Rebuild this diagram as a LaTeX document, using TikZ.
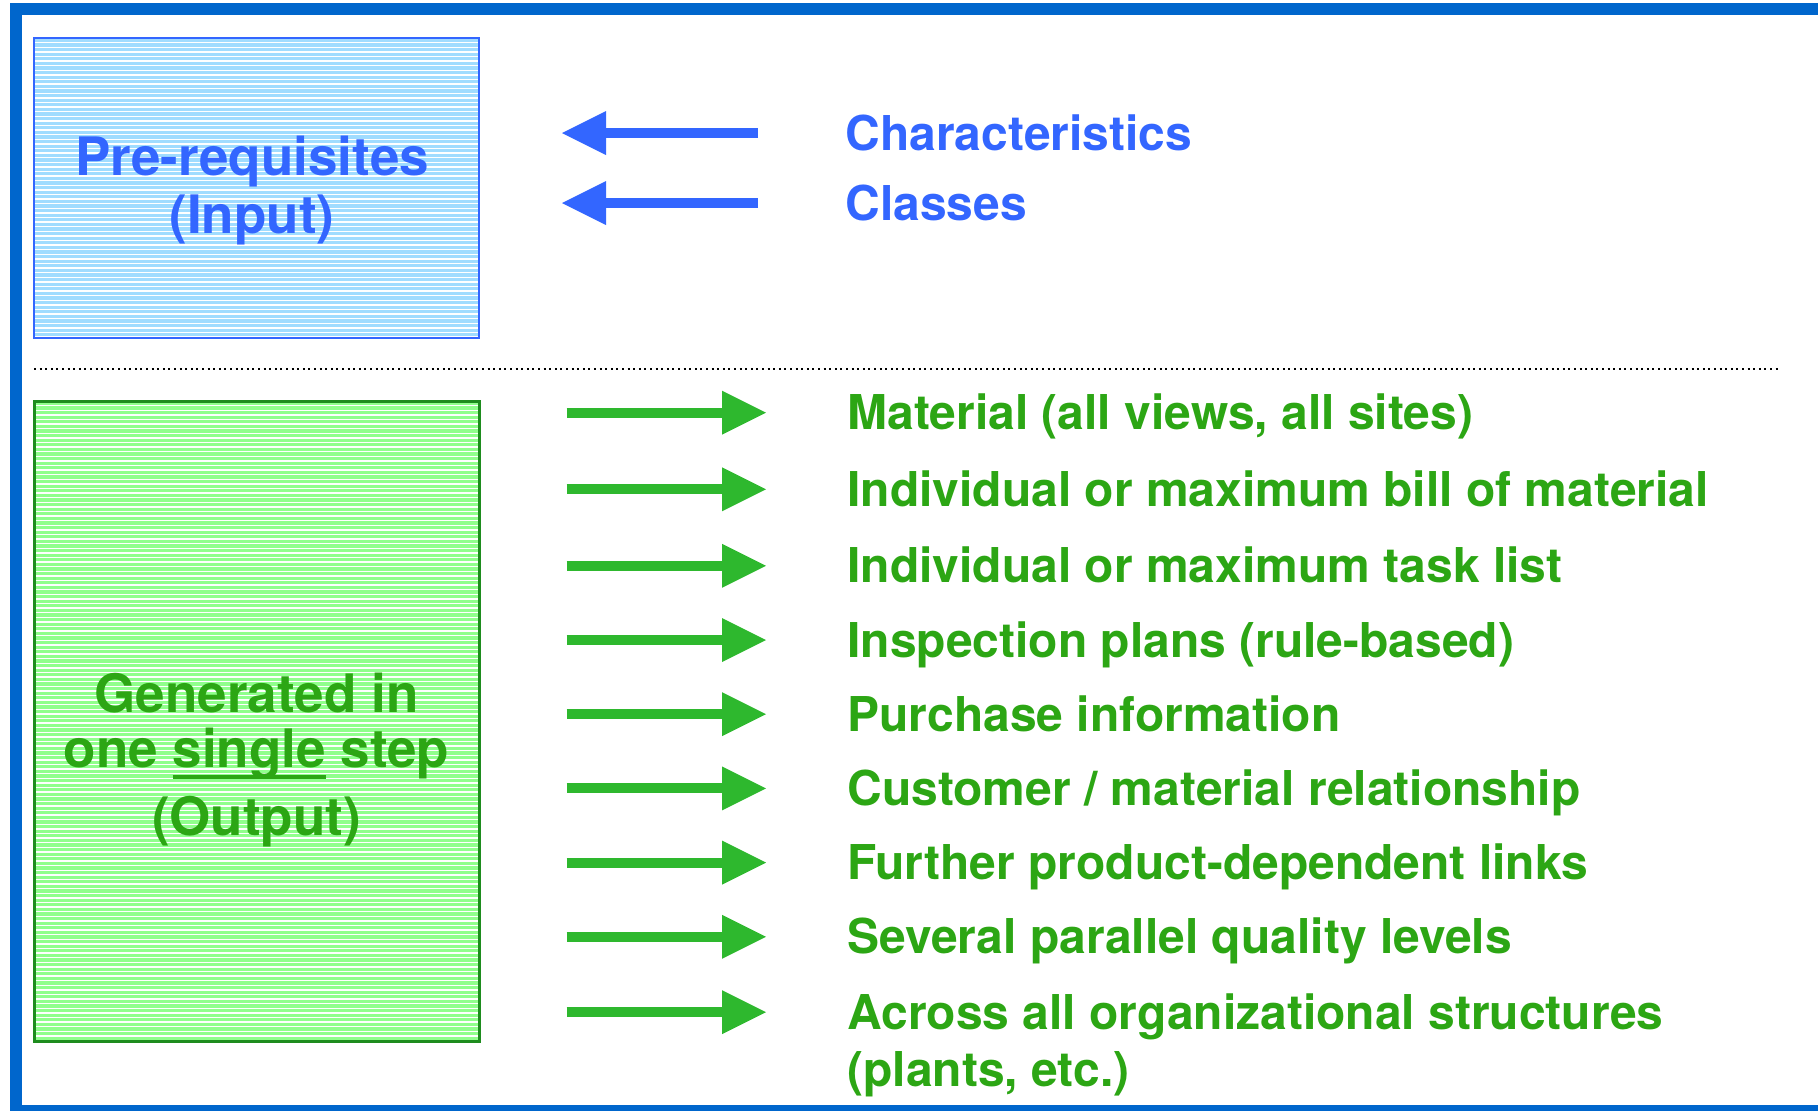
\documentclass[tikz,border=0pt]{standalone}
\usepackage{fontspec}
\setmainfont{TeX Gyre Heros}
\usetikzlibrary{arrows.meta}
\definecolor{frameblue}{HTML}{0066CC}
\definecolor{inblue}{HTML}{3366FF}
\definecolor{infill}{HTML}{A0DCFF}
\definecolor{outfill}{HTML}{90FF8C}
\definecolor{outborder}{HTML}{1E8C1E}
\definecolor{outgreen}{HTML}{2CA614}
\definecolor{outarrow}{HTML}{2EB82E}
\newcommand{\ulword}[1]{\sbox0{#1}\rlap{\rule[-5.5pt]{\wd0}{2pt}}\usebox0}
\begin{document}
\begin{tikzpicture}[x=0.5pt,y=-0.5pt,
    stripes/.style={path picture={
      \foreach \k in {1,...,140}
        \draw[white,line width=0.7pt] ([yshift=-\k*2.3pt]path picture bounding box.north west)
          -- ([yshift=-\k*2.3pt]path picture bounding box.north east);}},
    inbox/.style={draw=inblue,line width=1pt,fill=infill,stripes,inner sep=0pt,
      minimum width=222.5pt,minimum height=150pt},
    outbox/.style={draw=outborder,line width=1.5pt,fill=outfill,stripes,inner sep=0pt,
      minimum width=222.5pt,minimum height=320pt},
    boxlabel/.style={align=center,inner sep=0pt,font=\fontsize{26.5}{29}\selectfont\bfseries},
    initem/.style={anchor=west,inner sep=0pt,text height=17pt,text depth=0pt,text=inblue,
      font=\fontsize{24}{28.5}\selectfont\bfseries},
    outitem/.style={initem,text=outgreen},
    inarrow/.style={draw=inblue,line width=5pt,shorten <=43.5pt,shorten >=41pt,
      -{Triangle[length=22pt,width=22pt,line width=0pt]}},
    outarrow/.style={draw=outarrow,line width=5pt,shorten <=43pt,shorten >=40.5pt,
      -{Triangle[length=22pt,width=22pt,line width=0pt]}}]
  \useasboundingbox (0,0) rectangle (1818,1110);
  % frame and separator
  \draw[frameblue,line width=6pt] (1830,9) -- (16,9) -- (16,1111) -- (1830,1111);
  \draw[line width=1pt,dash pattern=on 1pt off 1.8pt] (34,369) -- (1779,369);
  % input part
  \node[inbox] (inbox) at (256.5,188) {};
  \node[boxlabel,text=inblue] (inlbl) at (252,190.5) {Pre-requisites\\(Input)};
  \node[initem] (c1) at (845,133) {Characteristics};
  \node[initem] (c2) at (845,203) {Classes};
  \draw[inarrow] (c1.west) -- (inbox.east |- c1.west);
  \draw[inarrow] (c2.west) -- (inbox.east |- c2.west);
  % output part
  \node[outbox] (outbox) at (256.5,721) {};
  \node[boxlabel,text=outgreen,font=\fontsize{26.5}{27.5}\selectfont\bfseries] (outlbl) at (256.5,760.5)
    {Generated in\\one \ulword{single} step\\[6.5pt](Output)};
  \node[outitem] (g1) at (847,412.7) {Material (all views, all sites)};
  \node[outitem] (g2) at (847,489.3) {Individual or maximum bill of material};
  \node[outitem] (g3) at (847,565.8) {Individual or maximum task list};
  \node[outitem] (g4) at (847,640) {Inspection plans (rule-based)};
  \node[outitem] (g5) at (847,714.2) {Purchase information};
  \node[outitem] (g6) at (847,788.4) {Customer / material relationship};
  \node[outitem] (g7) at (847,862.6) {Further product-dependent links};
  \node[outitem] (g8) at (847,936.8) {Several parallel quality levels};
  \node[outitem] (g9) at (847,1012.2) {Across all organizational structures};
  \node[outitem] (g9b) at (847,1069.2) {(plants, etc.)};
  \draw[outarrow] (outbox.east |- g1.west) -- (g1.west);
  \draw[outarrow] (outbox.east |- g2.west) -- (g2.west);
  \draw[outarrow] (outbox.east |- g3.west) -- (g3.west);
  \draw[outarrow] (outbox.east |- g4.west) -- (g4.west);
  \draw[outarrow] (outbox.east |- g5.west) -- (g5.west);
  \draw[outarrow] (outbox.east |- g6.west) -- (g6.west);
  \draw[outarrow] (outbox.east |- g7.west) -- (g7.west);
  \draw[outarrow] (outbox.east |- g8.west) -- (g8.west);
  \draw[outarrow] (outbox.east |- g9.west) -- (g9.west);
\end{tikzpicture}
\end{document}
